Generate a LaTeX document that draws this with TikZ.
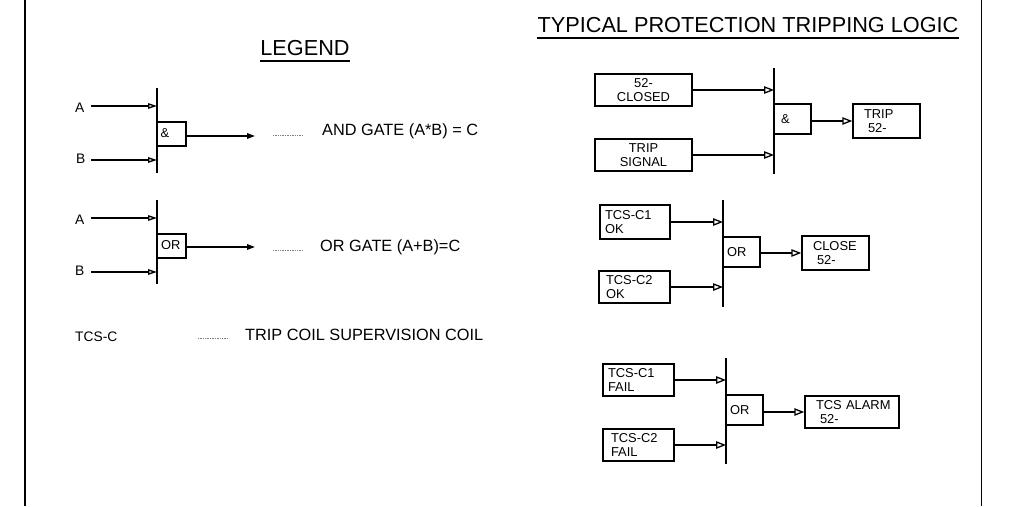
\documentclass[tikz,border=0pt]{standalone}
\usepackage{fontspec}
\setmainfont{Liberation Sans}
\usetikzlibrary{arrows.meta}
\tikzset{
    logicbox/.style={draw, line width=1.5pt, inner sep=0pt, align=left, font=\fontsize{12.9}{13.6}\selectfont},
    txt/.style={inner sep=0pt, anchor=west, font=\fontsize{16.3}{18}\selectfont},
    small/.style={inner sep=0pt, anchor=west, font=\fontsize{13.8}{15}\selectfont},
    title/.style={inner sep=0pt, font=\fontsize{21.7}{24}\selectfont},
    wire/.style={line width=1.5pt},
    inarrow/.style={wire, -{Triangle[open, length=10pt, width=7.5pt, line width=1.3pt]}},
    legarrow/.style={wire, -{Triangle[open, length=9pt, width=5.5pt, line width=1.3pt]}},
    outarrow/.style={wire, -{Triangle[length=8pt, width=5.5pt]}},
    dots/.style={gray, line width=0.7pt, densely dotted}
}
\begin{document}
\begin{tikzpicture}[x=1pt, y=-1pt]
    \useasboundingbox (0,0) rectangle (1011,506);
    % frame
    \coordinate (lt) at (25,0);
    \coordinate (lb) at (25,506);
    \coordinate (rt) at (981,0);
    \coordinate (rb) at (981,506);
    \draw[line width=1.8pt] (lt)--(lb);
    \draw[line width=1pt] (rt)--(rb);
    % legend
    \node[title] (legend) at (305,48) {LEGEND};
    \draw[line width=1.3pt] ([yshift=-5pt]legend.south west)--([yshift=-5pt]legend.south east);
    \node[small] (la) at (75,108) {A};
    \node[small] (lb1) at (76,159) {B};
    \coordinate (ain) at (91,106);
    \coordinate (bin) at (91,160);
    \coordinate (bar1a) at (157,88);
    \coordinate (bar1b) at (157,173);
    \draw[wire] (bar1a)--(bar1b);
    \draw[legarrow] (ain)--(ain -| bar1a);
    \draw[legarrow] (bin)--(bin -| bar1a);
    \node[logicbox, text width=29pt, minimum height=24pt] (andl) at (171.5,134) {\hspace*{3.5pt}\raisebox{2.5pt}{\&}};
    \coordinate (andout) at (255,136);
    \draw[outarrow] (andl.east |- andout)--(andout);
    \coordinate (dot1a) at (273,135.5);
    \coordinate (dot1b) at (302,135.5);
    \draw[dots] (dot1a)--(dot1b);
    \node[txt] (andtxt) at (322,131) {AND GATE (A*B) = C};

    \node[small] (la2) at (75,220) {A};
    \node[small] (lb2) at (75,271) {B};
    \coordinate (ain2) at (91,218);
    \coordinate (bin2) at (91,272);
    \coordinate (bar2a) at (157,200);
    \coordinate (bar2b) at (157,284);
    \draw[wire] (bar2a)--(bar2b);
    \draw[legarrow] (ain2)--(ain2 -| bar2a);
    \draw[legarrow] (bin2)--(bin2 -| bar2a);
    \node[logicbox, text width=29pt, minimum height=24pt] (orl) at (171.5,246) {\hspace*{4pt}\raisebox{2.5pt}{OR}};
    \coordinate (orout) at (255,247);
    \draw[outarrow] (orl.east |- orout)--(orout);
    \coordinate (dot2a) at (273,250);
    \coordinate (dot2b) at (302,250);
    \draw[dots] (dot2a)--(dot2b);
    \node[txt] (ortxt) at (320,247) {OR GATE (A+B)=C};

    \node[small] (tcs) at (75,337) {TCS-C};
    \coordinate (dot3a) at (198,338);
    \coordinate (dot3b) at (227,338);
    \draw[dots] (dot3a)--(dot3b);
    \node[txt] (tcstxt) at (245,335) {TRIP COIL SUPERVISION COIL};

    % tripping logic
    \node[title] (logic) at (748,25) {TYPICAL PROTECTION TRIPPING LOGIC};
    \draw[line width=1.3pt] ([yshift=-5pt]logic.south west)--([yshift=-5pt]logic.south east);

    % trip
    \coordinate (bar3a) at (774,68);
    \coordinate (bar3b) at (774,174);
    \draw[wire] (bar3a)--(bar3b);
    \node[logicbox, text width=97pt, minimum height=32pt, align=center] (closed) at (643.5,90) {52-\\CLOSED};
    \node[logicbox, text width=97pt, minimum height=32pt, align=center] (signal) at (643.5,155) {TRIP\\SIGNAL};
    \node[logicbox, text width=37pt, minimum height=30pt] (and) at (792.5,119) {\hspace*{7pt}\&};
    \node[logicbox, text width=67pt, minimum height=34pt] (trip) at (886.5,121) {\hspace*{11pt}TRIP\\\hspace*{15pt}52-};
    \draw[inarrow] (closed)--(closed -| bar3a);
    \draw[inarrow] (signal)--(signal -| bar3a);
    \draw[inarrow] (and.east |- trip)--(trip);

    % close
    \coordinate (bar4a) at (723,200);
    \coordinate (bar4b) at (723,307);
    \draw[wire] (bar4a)--(bar4b);
    \node[logicbox, text width=70pt, minimum height=34pt] (okone) at (635,222) {\hspace*{5pt}TCS-C1\\\hspace*{5pt}OK};
    \node[logicbox, text width=71pt, minimum height=32pt] (oktwo) at (634.5,287) {\hspace*{7pt}TCS-C2\\\hspace*{7pt}OK};
    \node[logicbox, text width=37pt, minimum height=30pt] (or) at (741.5,252) {\hspace*{4pt}OR};
    \node[logicbox, text width=67pt, minimum height=34pt] (close) at (835.5,253) {\hspace*{11pt}CLOSE\\\hspace*{15pt}52-};
    \draw[inarrow] (okone)--(okone -| bar4a);
    \draw[inarrow] (oktwo)--(oktwo -| bar4a);
    \draw[inarrow] (or.east |- close)--(close);

    % alarm
    \coordinate (bar5a) at (726,358);
    \coordinate (bar5b) at (726,464);
    \draw[wire] (bar5a)--(bar5b);
    \node[logicbox, text width=71pt, minimum height=32pt] (failone) at (638.5,380) {\hspace*{5pt}TCS-C1\\\hspace*{5pt}FAIL};
    \node[logicbox, text width=71pt, minimum height=32pt] (failtwo) at (638.5,445) {\hspace*{8pt}TCS-C2\\\hspace*{8pt}FAIL};
    \node[logicbox, text width=37pt, minimum height=30pt] (or2) at (744.5,410) {\hspace*{4pt}OR};
    \node[logicbox, text width=94pt, minimum height=32pt] (alarm) at (852,412) {\hspace*{11pt}TCS ALARM\\\hspace*{15pt}52-};
    \draw[inarrow] (failone)--(failone -| bar5a);
    \draw[inarrow] (failtwo)--(failtwo -| bar5a);
    \draw[inarrow] (or2.east |- alarm)--(alarm);
\end{tikzpicture}
\end{document}
